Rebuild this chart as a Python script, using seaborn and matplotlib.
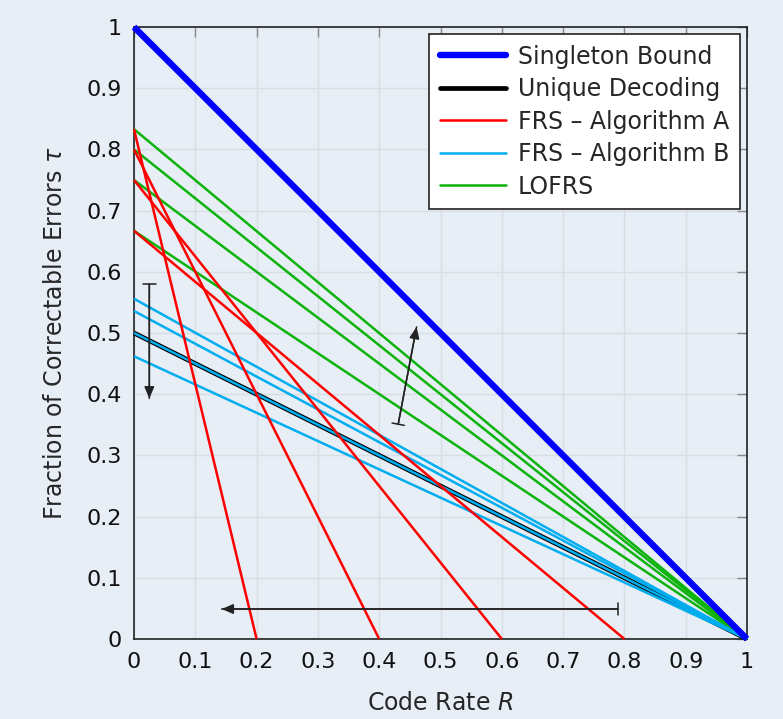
import numpy as np
import pandas as pd
import seaborn as sns
import matplotlib.pyplot as plt
from matplotlib.lines import Line2D

# FRS - Algorithm A: (tau at R=0, R at tau=0)
frs_a_start = [0.833, 0.8, 0.75, 0.667]
frs_a_end = [0.2, 0.4, 0.6, 0.8]
# FRS - Algorithm B: tau at R=0, all end at R=1
frs_b_start = [0.556, 0.536, 0.5, 0.462]
# LOFRS: tau at R=0, all end at R=1
lofrs_start = [0.833, 0.8, 0.75, 0.667]

tick_vals = [0, 0.1, 0.2, 0.3, 0.4, 0.5, 0.6, 0.7, 0.8, 0.9, 1]
tick_labels = ["0", "0.1", "0.2", "0.3", "0.4", "0.5", "0.6", "0.7", "0.8", "0.9", "1"]

bg = "#e7eef6"
c_single = "#0000ff"
c_a = "#ff0000"
c_b = "#00aeef"
c_lofrs = "#0cb30c"

sns.set_style("white")
plt.rcParams['font.family'] = ['DejaVu Sans']

fig = plt.figure(figsize=(7.83, 7.19), dpi=100, facecolor=bg)
ax = fig.add_axes([134/783, 1-639/719, 613/783, 612/719])
ax.set_facecolor(bg)

def seg(x, y, color, lw, z):
    sns.lineplot(x=x, y=y, color=color, lw=lw, ax=ax, zorder=z,
                 estimator=None, sort=False, legend=False, clip_on=False,
                 solid_capstyle="butt")

# Singleton bound
seg([0, 1], [1, 0], c_single, 4.6, 5)
# Unique decoding
seg([0, 1], [0.5, 0], "black", 3.4, 3)

for y0 in lofrs_start:
    seg([0, 1], [y0, 0], c_lofrs, 1.8, 4)
for y0, x1 in zip(frs_a_start, frs_a_end):
    seg([0, x1], [y0, 0], c_a, 1.8, 4.2)
for y0 in frs_b_start:
    seg([0, 1], [y0, 0], c_b, 1.8, 4.1)

# arrows with a bar at the tail
def bar_arrow(start, end):
    ax.annotate("", xy=end, xytext=start, zorder=6,
                arrowprops=dict(arrowstyle="-|>,head_length=0.7,head_width=0.3",
                                color="#222222", lw=1.1, shrinkA=0, shrinkB=0))
    ax.annotate("", xy=end, xytext=start, zorder=6,
                arrowprops=dict(arrowstyle="|-|,widthA=0.45,widthB=0",
                                color="#222222", lw=1.1, shrinkA=0, shrinkB=0))

bar_arrow((0.025, 0.58), (0.025, 0.393))
bar_arrow((0.431, 0.351), (0.461, 0.51))
bar_arrow((0.789, 0.049), (0.143, 0.049))

ax.set_xlim(0, 1)
ax.set_ylim(0, 1)
ax.set_xticks(tick_vals)
ax.set_xticklabels(tick_labels)
ax.set_yticks(tick_vals)
ax.set_yticklabels(tick_labels)
ax.tick_params(direction="in", length=7, width=1, color="#888888", labelsize=16,
               top=True, right=True, pad=9, labelcolor="#111111")
ax.grid(True, color="#d9dee4", lw=1)
ax.set_axisbelow(True)
for s in ax.spines.values():
    s.set_color("#222222")
    s.set_linewidth(1.2)

ax.set_xlabel("Code Rate $R$", fontsize=17, labelpad=14)
ax.set_ylabel(r"Fraction of Correctable Errors $\tau$", fontsize=17, labelpad=14)

handles = [Line2D([], [], color=c_single, lw=4.6),
           Line2D([], [], color="black", lw=3.4),
           Line2D([], [], color=c_a, lw=1.8),
           Line2D([], [], color=c_b, lw=1.8),
           Line2D([], [], color=c_lofrs, lw=1.8)]
labels = ["Singleton Bound", "Unique Decoding", "FRS \u2013 Algorithm A",
          "FRS \u2013 Algorithm B", "LOFRS"]
leg = ax.legend(handles, labels, loc="upper right", fontsize=17, fancybox=False,
                framealpha=1, edgecolor="#222222", handlelength=2.8,
                borderaxespad=0.3, labelspacing=0.36, handletextpad=0.5,
                borderpad=0.45)
leg.get_frame().set_linewidth(1.2)
leg.set_zorder(10)

fig.savefig("out.png", dpi=100, facecolor=bg)
